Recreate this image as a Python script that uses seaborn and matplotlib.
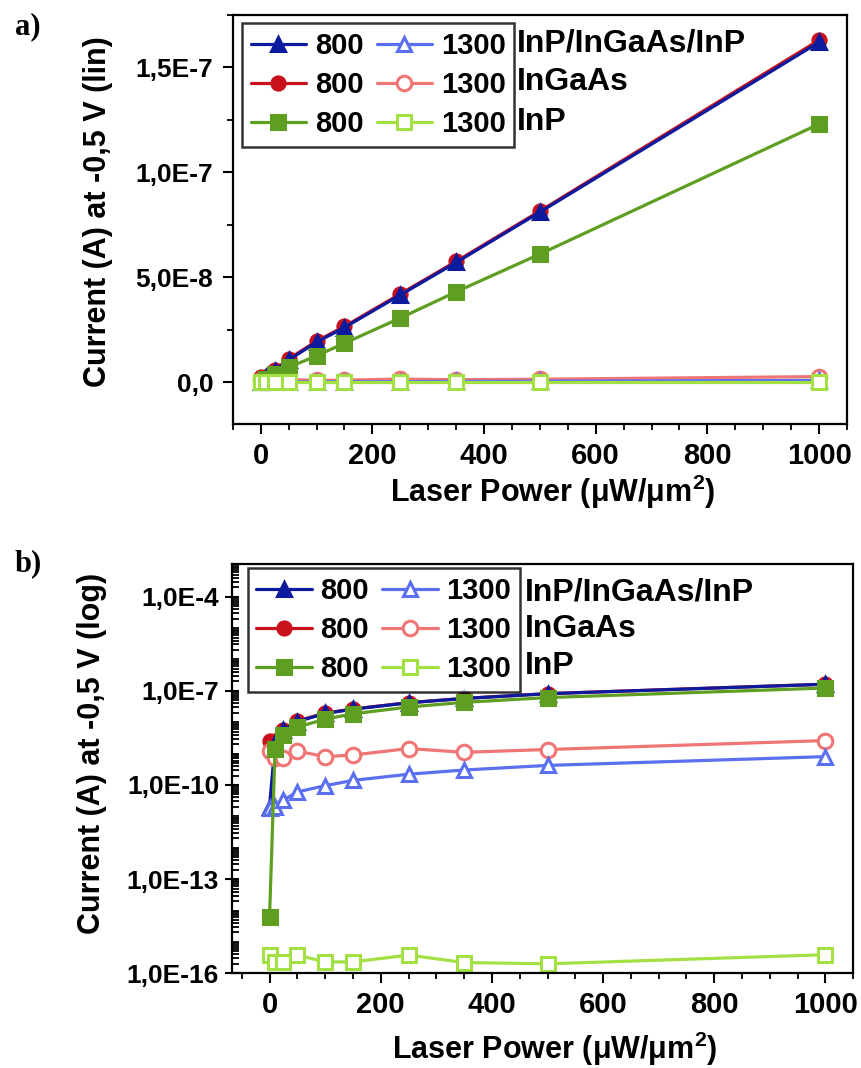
import numpy as np
import pandas as pd
import seaborn as sns
import matplotlib.pyplot as plt
from matplotlib.ticker import FixedLocator, MultipleLocator, LogLocator, NullFormatter, FuncFormatter

# laser power values (uW/um^2)
power = [0, 10, 25, 50, 100, 150, 250, 350, 500, 1000]

# current (A) at -0.5 V
stack_800 = [2e-11, 2.2e-9, 5.5e-9, 1.05e-8, 1.9e-8, 2.6e-8, 4.15e-8, 5.7e-8, 8.1e-8, 1.62e-7]
stack_1300 = [1.8e-11, 2e-11, 3.3e-11, 6e-11, 9.5e-11, 1.4e-10, 2.2e-10, 3e-10, 4.2e-10, 8e-10]
ingaas_800 = [2.5e-9, 2.5e-9, 5.7e-9, 1.1e-8, 1.95e-8, 2.65e-8, 4.2e-8, 5.75e-8, 8.15e-8, 1.63e-7]
ingaas_1300 = [1.2e-9, 7.5e-10, 7.5e-10, 1.2e-9, 8e-10, 9e-10, 1.45e-9, 1.1e-9, 1.35e-9, 2.6e-9]
inp_800 = [6e-15, 1.4e-9, 3.8e-9, 7e-9, 1.25e-8, 1.85e-8, 3.05e-8, 4.3e-8, 6.1e-8, 1.23e-7]
inp_1300 = [3.8e-16, 2.3e-16, 2.3e-16, 3.8e-16, 2.3e-16, 2.3e-16, 3.8e-16, 2.2e-16, 2e-16, 3.9e-16]

materials = ['InP/InGaAs/InP', 'InGaAs', 'InP']
wavelengths = ['800', '1300']

rows = []
for mat, d800, d1300 in zip(materials, [stack_800, ingaas_800, inp_800],
                            [stack_1300, ingaas_1300, inp_1300]):
    for wl, vals in zip(wavelengths, [d800, d1300]):
        for p, v in zip(power, vals):
            rows.append({'material': mat, 'wavelength': wl, 'power': p, 'current': v})
df = pd.DataFrame(rows)

colors = {('InP/InGaAs/InP', '800'): '#0c1a9e', ('InP/InGaAs/InP', '1300'): '#5b70f0',
          ('InGaAs', '800'): '#c8111d', ('InGaAs', '1300'): '#f07575',
          ('InP', '800'): '#5e9f22', ('InP', '1300'): '#a2e043'}
markers = {'InP/InGaAs/InP': '^', 'InGaAs': 'o', 'InP': 's'}

# drawing order (last on top)
draw_order = [('InGaAs', '800'), ('InP/InGaAs/InP', '800'), ('InGaAs', '1300'),
              ('InP/InGaAs/InP', '1300'), ('InP', '800'), ('InP', '1300')]

sns.set_style('ticks', rc={'text.color': 'black', 'axes.labelcolor': 'black',
                           'xtick.color': 'black', 'ytick.color': 'black',
                           'axes.edgecolor': 'black'})
plt.rcParams['font.family'] = ['Liberation Sans', 'DejaVu Sans']
plt.rcParams['font.weight'] = 'bold'
plt.rcParams['axes.labelweight'] = 'bold'
plt.rcParams['mathtext.fontset'] = 'custom'
plt.rcParams['mathtext.rm'] = 'Liberation Sans:bold'
plt.rcParams['mathtext.bf'] = 'Liberation Sans:bold'

fig = plt.figure(figsize=(8.62, 10.68), dpi=100)
ax_a = fig.add_axes([0.270, 0.603, 0.7126, 0.383])
ax_b = fig.add_axes([0.2688, 0.0887, 0.7211, 0.3832])


def sci_comma(v, pos):
    if v == 0:
        return '0,0'
    m, e = f'{v:.1E}'.split('E')
    return f"{m.replace('.', ',')}E{int(e)}"


def draw(ax):
    handles = {}
    for mat, wl in draw_order:
        sub = df[(df.material == mat) & (df.wavelength == wl)]
        filled = wl == '800'
        c = colors[(mat, wl)]
        sns.lineplot(data=sub, x='power', y='current', ax=ax, color=c, lw=2.3,
                     marker=markers[mat], markersize=9.5 if filled else 10.5,
                     markerfacecolor=c if filled else 'white', markeredgecolor=c,
                     markeredgewidth=2.2, estimator=None, sort=False, label=f'{mat} {wl}')
        handles[(mat, wl)] = ax.lines[-1]
    hs = [handles[(m, '800')] for m in materials] + [handles[(m, '1300')] for m in materials]
    labels = ['800'] * 3 + ['1300'] * 3
    return hs, labels


for ax, scale in [(ax_a, 'lin'), (ax_b, 'log')]:
    hs, labels = draw(ax)
    ax.xaxis.set_major_locator(MultipleLocator(200))
    ax.xaxis.set_minor_locator(MultipleLocator(50))
    for s in ax.spines.values():
        s.set_linewidth(1.6)
        s.set_visible(True)
    ax.tick_params(which='major', direction='out', length=7, width=1.5)
    ax.tick_params(which='minor', direction='out', length=4, width=1.3)
    ax.tick_params(axis='x', labelsize=21, pad=6)
    ax.tick_params(axis='y', labelsize=19, pad=7)
    ax.set_xlabel('Laser Power (μW/μm$^{2}$)', fontsize=22, fontweight='bold')
    ax.set_ylabel(f'Current (A) at -0,5 V ({scale})', fontsize=22, fontweight='bold')
    leg = ax.legend(hs, labels, ncol=2, loc='upper left', fontsize=21, frameon=True,
                    fancybox=False, handlelength=1.9, handletextpad=0.3, columnspacing=0.45,
                    labelspacing=0.38, borderpad=0.3, borderaxespad=0,
                    bbox_to_anchor=(0.015, 0.98) if scale == 'lin' else (0.0257, 0.9895))
    leg.get_frame().set_edgecolor('black')
    leg.get_frame().set_linewidth(1.8)
    for t in leg.get_texts():
        t.set_fontweight('bold')

ax_a.set_xlim(-50, 1050)
ax_a.set_ylim(-2e-8, 1.75e-7)
ax_a.yaxis.set_major_locator(MultipleLocator(5e-8))
ax_a.yaxis.set_minor_locator(MultipleLocator(2.5e-8))
ax_a.yaxis.set_major_formatter(FuncFormatter(sci_comma))
ax_a.xaxis.set_label_coords(0.521, -0.118)
ax_a.yaxis.set_label_coords(-0.195, 0.52)

ax_b.set_xlim(-68, 1050)
ax_b.set_yscale('log')
ax_b.set_ylim(1e-16, 1.1e-3)
ax_b.yaxis.set_major_locator(FixedLocator([1e-16, 1e-13, 1e-10, 1e-7, 1e-4]))
ax_b.yaxis.set_minor_locator(LogLocator(base=10, subs=np.arange(1, 10), numticks=200))
ax_b.yaxis.set_major_formatter(FuncFormatter(sci_comma))
ax_b.yaxis.set_minor_formatter(NullFormatter())
ax_b.tick_params(axis='y', which='major', direction='inout', length=10, pad=4)
ax_b.tick_params(axis='y', which='minor', direction='in', length=5)
ax_b.xaxis.set_label_coords(0.52, -0.138)
ax_b.yaxis.set_label_coords(-0.2006, 0.538)

# material names next to the legend rows
for ax, ys, x0 in [(ax_a, [0.931, 0.837, 0.738], 0.463), (ax_b, [0.931, 0.842, 0.752], 0.472)]:
    for mat, y in zip(materials, ys):
        ax.text(x0, y, mat, transform=ax.transAxes, fontsize=23, fontweight='bold',
                va='center', ha='left')

fig.text(0.017, 0.989, 'a)', fontsize=22, fontweight='bold', family='Liberation Serif', va='top')
fig.text(0.017, 0.486, 'b)', fontsize=22, fontweight='bold', family='Liberation Serif', va='top')

fig.savefig('out.png', dpi=100)
